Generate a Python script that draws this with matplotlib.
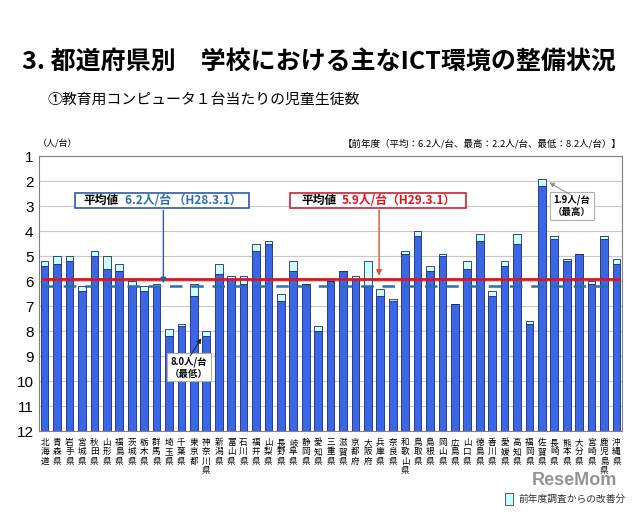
import matplotlib
matplotlib.use('Agg')
import matplotlib.pyplot as plt
from matplotlib.patches import Rectangle
import numpy as np

plt.rcParams['font.family'] = ['Noto Sans CJK JP', 'DejaVu Sans']

prefs = ['北海道', '青森県', '岩手県', '宮城県', '秋田県', '山形県', '福島県', '茨城県', '栃木県', '群馬県',
         '埼玉県', '千葉県', '東京都', '神奈川県', '新潟県', '富山県', '石川県', '福井県', '山梨県', '長野県',
         '岐阜県', '静岡県', '愛知県', '三重県', '滋賀県', '京都府', '大阪府', '兵庫県', '奈良県', '和歌山県',
         '鳥取県', '島根県', '岡山県', '広島県', '山口県', '徳島県', '香川県', '愛媛県', '高知県', '福岡県',
         '佐賀県', '長崎県', '熊本県', '大分県', '宮崎県', '鹿児島県', '沖縄県']
# H29.3.1 (current)
cur = [5.2, 5.0, 5.0, 6.2, 4.8, 5.0, 5.3, 6.0, 6.2, 6.1,
       7.9, 7.7, 6.1, 8.0, 5.3, 5.8, 5.8, 4.5, 4.4, 6.5,
       5.2, 6.1, 7.8, 6.0, 5.6, 5.8, 5.2, 6.3, 6.7, 4.8,
       4.0, 5.4, 4.9, 6.9, 5.2, 4.1, 6.4, 5.2, 4.1, 7.6,
       1.9, 4.2, 5.1, 4.9, 6.0, 4.2, 5.1]
# H28.3.1 (previous year)
prev = [5.4, 5.3, 5.2, 6.4, 5.0, 5.5, 5.6, 6.2, 6.4, 6.2,
        8.2, 7.8, 6.6, 8.2, 5.7, 5.9, 6.1, 4.8, 4.5, 6.8,
        5.6, 6.1, 8.0, 6.0, 5.6, 5.9, 6.2, 6.6, 6.8, 4.9,
        4.2, 5.6, 5.0, 6.9, 5.5, 4.4, 6.6, 5.4, 4.5, 7.7,
        2.2, 4.3, 5.2, 4.9, 6.1, 4.3, 5.3]
avg_cur = 5.9
avg_prev = 6.2

cur = np.array(cur)
prev = np.array(prev)
x = np.arange(len(prefs))

fig = plt.figure(figsize=(6.4, 5.15), dpi=100)
ax = fig.add_axes([0.061, 0.163, 0.911, 0.534])

blue = '#3a66e8'
cyan = '#ccffff'
ax.bar(x, 12 - prev, bottom=prev, width=0.62, color=blue, edgecolor='#1a2a6a', linewidth=0.6, zorder=3)
diff = prev - cur
ax.bar(x, diff, bottom=cur, width=0.62, color=cyan, edgecolor='#1a2a6a', linewidth=0.6, zorder=3)

ax.axhline(avg_cur, color='#e0141e', linewidth=2, zorder=4, xmin=0.005, xmax=0.995)
ax.axhline(avg_prev, color='#2a6db0', linewidth=1.8, linestyle=(0, (5, 3.5)), zorder=4, xmin=0.005, xmax=0.995)

ax.set_ylim(12, 1)
ax.set_xlim(-0.45, len(prefs) - 0.55)
ax.set_yticks(range(1, 13))
ax.set_yticklabels([str(i) for i in range(1, 13)], fontsize=11, family=['Liberation Sans', 'DejaVu Sans'])
ax.set_xticks(x)
ax.set_xticklabels(['\n'.join(p) for p in prefs], fontsize=6.2, linespacing=1.05, va='top')
ax.tick_params(axis='both', length=0)
ax.tick_params(axis='x', pad=5)
ax.tick_params(axis='y', pad=4)
ax.grid(axis='y', color='#c8c8c8', linewidth=0.8, zorder=0)
for s in ax.spines.values():
    s.set_color('#808080')
    s.set_linewidth(0.8)

# average boxes
ax.add_patch(Rectangle((2.45, 2.46), 13.95, 0.6, facecolor='white', edgecolor='#2a5caa', linewidth=1.2, zorder=6))
ax.text(3.1, 2.77, '平均値', fontsize=8.5, fontweight='bold', color='black', va='center', zorder=7)
ax.text(6.5, 2.77, '6.2人/台 （H28.3.1）', fontsize=8.5, fontweight='bold', color='#2a6db0', va='center', zorder=7)
ax.annotate('', xy=(9.55, avg_prev), xytext=(9.55, 3.06),
            arrowprops=dict(arrowstyle='-|>', color='#2a5caa', lw=1, mutation_scale=8), zorder=6)

ax.add_patch(Rectangle((19.75, 2.46), 14.15, 0.6, facecolor='white', edgecolor='#d02030', linewidth=1.2, zorder=6))
ax.text(20.7, 2.77, '平均値', fontsize=8.5, fontweight='bold', color='black', va='center', zorder=7)
ax.text(23.9, 2.77, '5.9人/台（H29.3.1）', fontsize=8.5, fontweight='bold', color='#e0141e', va='center', zorder=7)
ax.annotate('', xy=(26.9, avg_cur), xytext=(26.9, 3.06),
            arrowprops=dict(arrowstyle='-|>', color='#e05030', lw=1, mutation_scale=8), zorder=6)

# max / min callouts
ax.text(42.4, 3.0, '1.9人/台\n（最高）', fontsize=6.8, fontweight='bold', ha='center', va='center', linespacing=1.2,
        bbox=dict(boxstyle='square,pad=0.3', facecolor='white', edgecolor='#b0b0b0', linewidth=0.8), zorder=7)
ax.annotate('', xy=(40.6, 2.06), xytext=(42.3, 2.55),
            arrowprops=dict(arrowstyle='-|>', color='#909090', lw=0.7, mutation_scale=7,
                            shrinkA=0, shrinkB=0), zorder=7)
ax.text(11.6, 9.45, '8.0人/台\n（最低）', fontsize=6.8, fontweight='bold', ha='center', va='center', linespacing=1.2,
        bbox=dict(boxstyle='square,pad=0.3', facecolor='white', edgecolor='#b0b0b0', linewidth=0.8), zorder=7)
ax.annotate('', xy=(12.6, 8.29), xytext=(11.7, 9.0),
            arrowprops=dict(arrowstyle='-|>', color='#202020', lw=0.7, mutation_scale=7,
                            shrinkA=0, shrinkB=0), zorder=7)

# titles and notes
fig.text(0.034, 0.88, '3. 都道府県別　学校における主なICT環境の整備状況', fontsize=18, fontweight='bold', va='center')
fig.text(0.075, 0.806, '①教育用コンピュータ１台当たりの児童生徒数', fontsize=10.7, va='center')
fig.text(0.059, 0.72, '（人/台）', fontsize=6.5, va='center')
fig.text(0.972, 0.72, '【前年度（平均：6.2人/台、最高：2.2人/台、最低：8.2人/台）】', fontsize=6.8, ha='right', va='center')

# legend
fig.patches.append(Rectangle((0.789, 0.02), 0.012, 0.022, transform=fig.transFigure, figure=fig,
                             facecolor=cyan, edgecolor='#404040', linewidth=0.6))
fig.text(0.81, 0.031, '前年度調査からの改善分', fontsize=7, va='center', color='#303030')
fig.text(0.965, 0.067, 'ReseMom', fontsize=13, fontweight='bold', ha='right', va='center',
         color='#707070', alpha=0.75, family=['Liberation Sans', 'DejaVu Sans'])

fig.savefig('out.png', dpi=100)
